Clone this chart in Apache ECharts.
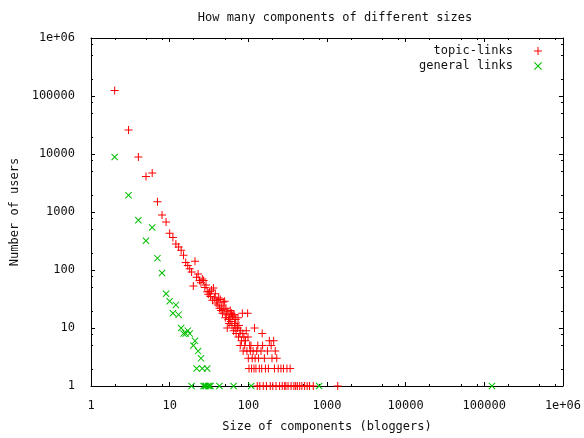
<!DOCTYPE html>
<html><head><meta charset="utf-8">
<script src="https://cdn.jsdelivr.net/npm/echarts@6/dist/echarts.min.js"></script>
<style>html,body{margin:0;padding:0;background:#fff}#c{width:584px;height:438px}</style>
</head><body><div id="c"></div>
<script>
const titleText = 'How many components of different sizes';
const xTitle = 'Size of components (bloggers)';
const yTitle = 'Number of users';
const seriesNames = ['topic-links', 'general links'];
const decadeLabels = ['1', '10', '100', '1000', '10000', '100000', '1e+06'];
const minorMultipliers = [2, 5, 8];

const topicSizes = [2,3,4,5,6,7,8,9,10,11,12,13,14,15,16,17,18,19,20,21,22,23,24,25,26,27,28,29,30,31,32,33,34,35,36,37,38,39,40,41,42,43,44,45,46,47,48,49,50,51,52,53,54,55,56,57,58,59,60,61,62,63,64,65,66,67,68,69,70,72,73,74,75,76,78,79,80,82,84,85,86,88,90,92,94,96,98,99,100,102,104,106,108,110,112,115,118,120,122,125,128,132,135,138,145,148,150,152,160,165,175,180,185,195,200,210,215,220,230,240,260,280,310,340,
  130,140,155,170,190,205,225,250,270,290,300,320,350,380,400,420,450,480,520,560,600,670,1370];
const topicCounts = [125000,26000,8900,4100,4700,1500,890,670,430,365,280,250,220,180,135,120,105,92,53,142,75,85,66,60,70,66,50,55,42,38,42,35,45,30,49,33,39,27,30,25,33,22,31,20,24,18,28,21,29,15,22,17,10,19,14,12,15,20,13,18,11,16,17,9,17,12,10,14,8,11,10,15,7,11,8,5,9,6,18,8,4,7,5,6,9,4,18,7,3,2,5,4,5,2,3,4,2,10,3,2,4,5,3,2,4,2,8,5,3,2,4,2,6,5,3,6,2,4,3,2,2,2,2,2,
  1,1,1,1,1,1,1,1,1,1,1,1,1,1,1,1,1,1,1,1,1,1,1];

const generalSizes = [2,3,4,5,6,7,8,9,10,11,12,13,14,15,16,17,18,19,20,21,22,23,25,26,27,28,29,30,31,32,33,43,65,109,796,125000];
const generalCounts = [8900,1950,720,320,540,160,89,39,29,18,25,17,10,8,8,9,8,1,5,6,2,4,3,2,1,1,1,2,1,1,1,1,1,1,1,1];

function pairs(xs, ys) { return xs.map((x, i) => [x, ys[i]]); }
const minorValues = [];
for (let d = 0; d < 6; d++) for (const m of minorMultipliers) minorValues.push(m * Math.pow(10, d));

const plusPath = 'path://M0,3.5h8v1h-8z M3.5,0h1v8h-1z';
const crossPath = 'path://M0,0.7L0.7,0L7,6.3L6.3,7Z M6.3,0L7,0.7L0.7,7L0,6.3Z';

const font = 'DejaVu Sans Mono';
const fmt = v => decadeLabels[Math.round(Math.log10(v))] || '';
const MINOR = 2;

const chart = echarts.init(document.getElementById('c'), null, {renderer: 'canvas'});
const axisCommon = {
  type: 'log', logBase: 10, min: 1, max: 1e6, splitNumber: 6,
  axisLine: {show: true, lineStyle: {color: '#000', width: 1}},
  axisTick: {show: true, inside: true, length: 4, lineStyle: {color: '#000', width: 1}},
  splitLine: {show: false},
  minorTick: {show: false}
};
chart.setOption({
  animation: false,
  backgroundColor: '#fff',
  title: {text: titleText, left: 330, top: 7, textAlign: 'center',
    textStyle: {fontFamily: font, fontSize: 12, fontWeight: 'normal', color: '#111'}},
  legend: {
    data: seriesNames, orient: 'vertical', align: 'right', right: 37, top: 40,
    itemWidth: 8, itemHeight: 8, itemGap: 3,
    textStyle: {fontFamily: font, fontSize: 12, color: '#111', padding: [0, 16, 0, 0]}
  },
  grid: {left: 91, right: 15, top: 38, bottom: 41},
  xAxis: [
    Object.assign({}, axisCommon, {position: 'bottom', name: xTitle, nameLocation: 'middle', nameGap: 35,
      nameTextStyle: {fontFamily: font, fontSize: 12, color: '#111'},
      axisLabel: {formatter: fmt, fontFamily: font, fontSize: 12, color: '#111', margin: 14}}),
    Object.assign({}, axisCommon, {position: 'top', axisLabel: {show: false}})
  ],
  yAxis: [
    Object.assign({}, axisCommon, {position: 'left', name: yTitle, nameLocation: 'middle', nameGap: 66,
      nameTextStyle: {fontFamily: font, fontSize: 12, color: '#111'},
      axisLabel: {formatter: fmt, fontFamily: font, fontSize: 12, color: '#111', margin: 16}}),
    Object.assign({}, axisCommon, {position: 'right', axisLabel: {show: false}})
  ],
  series: [
    {name: seriesNames[0], type: 'scatter', data: pairs(topicSizes, topicCounts), symbol: plusPath,
      symbolSize: 8, itemStyle: {color: '#ff0000', opacity: 1}, clip: false, z: 3},
    {name: seriesNames[1], type: 'scatter', data: pairs(generalSizes, generalCounts), symbol: crossPath,
      symbolSize: 7, itemStyle: {color: '#00c000', opacity: 1}, clip: false, z: 4},
    {type: 'custom', silent: true, data: minorValues.map(v => [v, 1]), clip: false, z: 1,
      renderItem: function (params, api) {
        const v = api.value(0);
        const b = api.coord([v, 1]);
        const t = api.coord([v, 1e6]);
        const x = Math.round(b[0]) + 0.5;
        return {type: 'group', children: [
          {type: 'line', shape: {x1: x, y1: b[1], x2: x, y2: b[1] - MINOR}, style: {stroke: '#000', lineWidth: 1}},
          {type: 'line', shape: {x1: x, y1: t[1], x2: x, y2: t[1] + MINOR}, style: {stroke: '#000', lineWidth: 1}}
        ]};
      }},
    {type: 'custom', silent: true, data: minorValues.map(v => [1, v]), clip: false, z: 1,
      renderItem: function (params, api) {
        const v = api.value(1);
        const l = api.coord([1, v]);
        const r = api.coord([1e6, v]);
        const y = Math.round(l[1]) + 0.5;
        return {type: 'group', children: [
          {type: 'line', shape: {x1: l[0], y1: y, x2: l[0] + MINOR, y2: y}, style: {stroke: '#000', lineWidth: 1}},
          {type: 'line', shape: {x1: r[0], y1: y, x2: r[0] - MINOR, y2: y}, style: {stroke: '#000', lineWidth: 1}}
        ]};
      }}
  ]
});
</script>
</body></html>
